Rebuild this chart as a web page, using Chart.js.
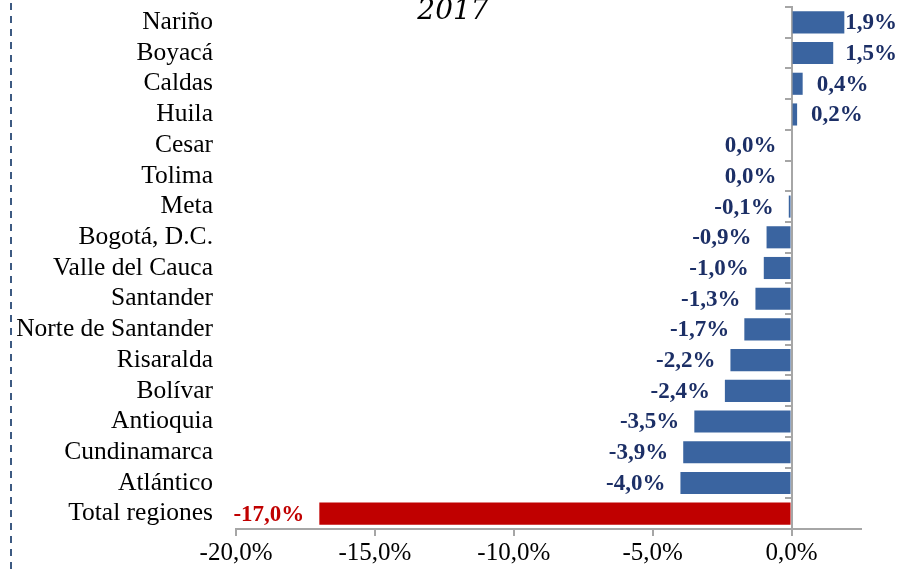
<!DOCTYPE html>
<html>
<head>
<meta charset="utf-8">
<script src="https://cdn.jsdelivr.net/npm/chart.js@4.4.0/dist/chart.umd.min.js"></script>
<style>
  html, body { margin: 0; padding: 0; background: #fff; }
  #wrap { width: 897px; height: 569px; position: relative; }
</style>
</head>
<body>
<div id="wrap"><canvas id="grafico"></canvas></div>
<script>
// Datos del gráfico
const regiones = ['Nariño', 'Boyacá', 'Caldas', 'Huila', 'Cesar', 'Tolima', 'Meta',
  'Bogotá, D.C.', 'Valle del Cauca', 'Santander', 'Norte de Santander', 'Risaralda',
  'Bolívar', 'Antioquia', 'Cundinamarca', 'Atlántico', 'Total regiones'];
const variacion = [1.9, 1.5, 0.4, 0.2, 0.0, 0.0, -0.1, -0.9, -1.0, -1.3, -1.7, -2.2,
  -2.4, -3.5, -3.9, -4.0, -17.0];
const etiquetas = ['1,9%', '1,5%', '0,4%', '0,2%', '0,0%', '0,0%', '-0,1%', '-0,9%', '-1,0%',
  '-1,3%', '-1,7%', '-2,2%', '-2,4%', '-3,5%', '-3,9%', '-4,0%', '-17,0%'];
const titulo = '2017';

const azul = '#3A64A0';
const rojo = '#C00000';
const colores = regiones.map(r => r === 'Total regiones' ? rojo : azul);
const coloresTexto = regiones.map(r => r === 'Total regiones' ? rojo : '#1C2F66');

const fmt = v => v.toFixed(1).replace('.', ',') + '%';

// Título y línea punteada a la izquierda
const decoracion = {
  id: 'decoracion',
  beforeDraw(chart) {
    const c = chart.ctx;
    c.save();
    c.strokeStyle = '#3D5A82';
    c.lineWidth = 2;
    c.setLineDash([7, 6]);
    c.beginPath();
    c.moveTo(11, 3);
    c.lineTo(11, 569);
    c.stroke();
    c.restore();
  },
  afterDraw(chart) {
    const c = chart.ctx;
    c.save();
    c.font = 'italic 28px "DejaVu Serif"';
    c.fillStyle = '#000';
    c.textAlign = 'center';
    c.textBaseline = 'alphabetic';
    c.fillText(titulo, 453, 19);
    c.restore();
  }
};

// Etiquetas de datos
const etiquetasDatos = {
  id: 'etiquetasDatos',
  afterDatasetsDraw(chart) {
    const c = chart.ctx;
    const meta = chart.getDatasetMeta(0);
    c.save();
    c.font = 'bold 23px "Liberation Serif"';
    c.textBaseline = 'middle';
    meta.data.forEach((bar, i) => {
      const v = variacion[i];
      const txt = etiquetas[i];
      const w = c.measureText(txt).width;
      c.fillStyle = coloresTexto[i];
      if (v > 0) {
        let x = bar.x + 14;
        if (x + w > chart.width) x = chart.width - w;
        c.textAlign = 'left';
        c.fillText(txt, x, bar.y + 1);
      } else {
        c.textAlign = 'right';
        c.fillText(txt, bar.x - 15, bar.y + 1);
      }
    });
    c.restore();
  }
};

const ctx = document.getElementById('grafico').getContext('2d');
const grafico = new Chart(ctx, {
  type: 'bar',
  data: {
    labels: regiones,
    datasets: [{
      data: variacion,
      backgroundColor: colores,
      borderWidth: 0,
      barPercentage: 0.72,
      categoryPercentage: 1
    }]
  },
  options: {
    indexAxis: 'y',
    responsive: true,
    maintainAspectRatio: false,
    animation: false,
    layout: { padding: { top: 7, right: 36, left: 0, bottom: 0 } },
    plugins: {
      legend: { display: false },
      tooltip: { enabled: false }
    },
    scales: {
      x: {
        min: -20,
        max: 2.5,
        afterBuildTicks: s => { s.ticks = s.ticks.filter(t => t.value <= 0 && t.value % 5 === 0); },
        afterFit: s => { s.height = 40; },
        ticks: {
          stepSize: 5,
          padding: 2,
          color: '#000',
          font: { family: 'Liberation Serif', size: 25 },
          callback: v => fmt(v)
        },
        grid: {
          drawOnChartArea: false,
          drawTicks: true,
          tickLength: 7,
          color: '#A6A6A6',
          lineWidth: 2
        },
        border: { display: true, color: '#A6A6A6', width: 2 }
      },
      y: {
        position: 'left',
        afterFit: s => { s.width = 236; },
        ticks: {
          autoSkip: false,
          padding: 0,
          color: '#000',
          font: { family: 'Liberation Serif', size: 25.5, lineHeight: 0.5 }
        },
        grid: {
          display: true,
          drawOnChartArea: false,
          drawTicks: true,
          tickLength: 23,
          color: 'rgba(0,0,0,0)'
        },
        border: { display: false }
      },
      y2: {
        type: 'category',
        axis: 'y',
        labels: regiones,
        position: { x: 0 },
        offset: true,
        ticks: { display: false },
        grid: {
          offset: true,
          drawOnChartArea: false,
          drawTicks: true,
          tickLength: 6,
          color: '#A6A6A6',
          lineWidth: 2
        },
        border: { display: true, color: '#A6A6A6', width: 2 }
      }
    }
  },
  plugins: [decoracion, etiquetasDatos]
});
</script>
</body>
</html>
